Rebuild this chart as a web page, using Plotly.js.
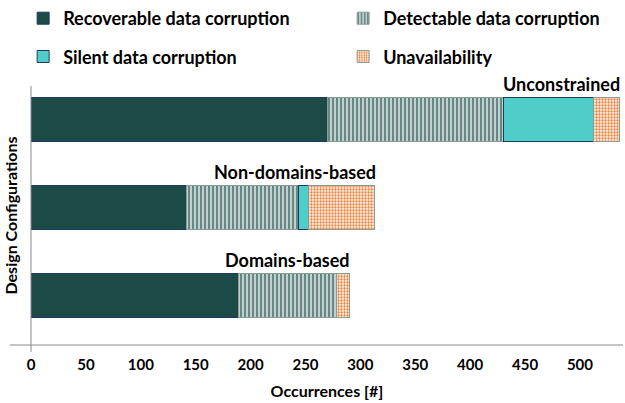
<!DOCTYPE html>
<html>
<head>
<meta charset="utf-8">
<script src="https://cdn.plot.ly/plotly-3.0.1.min.js"></script>
<style>html,body{margin:0;padding:0;background:#fff;}#chart{width:625px;height:403px;}</style>
</head>
<body>
<div id="chart"></div>
<script>
const categories = ["Domains-based", "Non-domains-based", "Unconstrained"];
const recoverable = [189, 142, 270];
const detectable = [89, 102, 160];
const silent = [0, 9, 82];
const unavailable = [12, 60, 24];
const xTicks = [0, 50, 100, 150, 200, 250, 300, 350, 400, 450, 500];

const FONT = "Lato, 'Open Sans', sans-serif";
const navy = "#1F3A5F";
const grayEdge = "#8C9A98";

const traces = [
  {name: "<b>Recoverable data corruption</b>", x: recoverable, legend: "legend",
   marker: {color: "#1B4A47", line: {color: navy, width: 1}}},
  {name: "<b>Detectable data corruption</b>", x: detectable, legend: "legend2",
   marker: {color: "#FFFFFF", line: {color: grayEdge, width: 1},
            pattern: {shape: "|", fgcolor: "#678986", bgcolor: "#FFFFFF", size: 4, solidity: 0.7}}},
  {name: "<b>Silent data corruption</b>", x: silent, legend: "legend3",
   marker: {color: "#4ECDC9", line: {color: navy, width: 1}}},
  {name: "<b>Unavailability</b>", x: unavailable, legend: "legend4",
   marker: {color: "#FCE6D6", line: {color: grayEdge, width: 1},
            pattern: {shape: ".", fgcolor: "#E8843E", bgcolor: "#FDF0E6", size: 3, solidity: 0.45}}}
].map(t => Object.assign({type: "bar", orientation: "h", y: categories, hoverinfo: "x+name"}, t));

const totals = categories.map((c, i) => recoverable[i] + detectable[i] + silent[i] + unavailable[i]);
const annotations = categories.map((c, i) => ({
  x: totals[i], y: i + 0.255, xref: "x", yref: "y", text: "<b>" + c + "</b>",
  showarrow: false, xanchor: "right", yanchor: "bottom", xshift: 3,
  font: {family: FONT, size: 18, color: "#000"}
}));

function leg(x, y) {
  return {orientation: "h", xref: "container", yref: "container", x: x, y: y, yanchor: "top",
          font: {family: FONT, size: 18, color: "#000"}, bgcolor: "rgba(0,0,0,0)"};
}

const layout = {
  width: 625, height: 403,
  margin: {l: 31, r: 2, t: 86, b: 58, autoexpand: false},
  paper_bgcolor: "#fff", plot_bgcolor: "#fff",
  barmode: "stack", bargap: 0.49,
  font: {family: FONT, color: "#000"},
  xaxis: {
    range: [0, 539.2], tickvals: xTicks, ticktext: xTicks.map(v => "<b>" + v + "</b>"),
    showgrid: false, zeroline: false, showline: false, ticks: "",
    tickfont: {family: FONT, size: 15, color: "#000"}, ticklabelstandoff: 9,
    title: {text: "<b>Occurrences [#]</b>", font: {family: FONT, size: 16, color: "#000"}, standoff: 13}
  },
  yaxis: {
    type: "category", range: [-0.5625, 2.38], showticklabels: false,
    showgrid: false, zeroline: false, showline: false, ticks: "",
    title: {text: "<b>Design Configurations</b>", font: {family: FONT, size: 16, color: "#000"}, standoff: 8}
  },
  showlegend: true,
  legend: leg(0.037, 1.0),
  legend2: leg(0.549, 1.0),
  legend3: leg(0.037, 0.905),
  legend4: leg(0.549, 0.905),
  annotations: annotations,
  shapes: [
    {type: "line", xref: "paper", yref: "paper", x0: -0.036, x1: 1, y0: 0, y1: 0, line: {color: "#8A8A8A", width: 1}},
    {type: "line", xref: "paper", yref: "paper", x0: 0, x1: 0, y0: -0.027, y1: 1, line: {color: "#8A8A8A", width: 1}}
  ]
};

Plotly.newPlot("chart", traces, layout, {displayModeBar: false, staticPlot: true});
</script>
</body>
</html>
